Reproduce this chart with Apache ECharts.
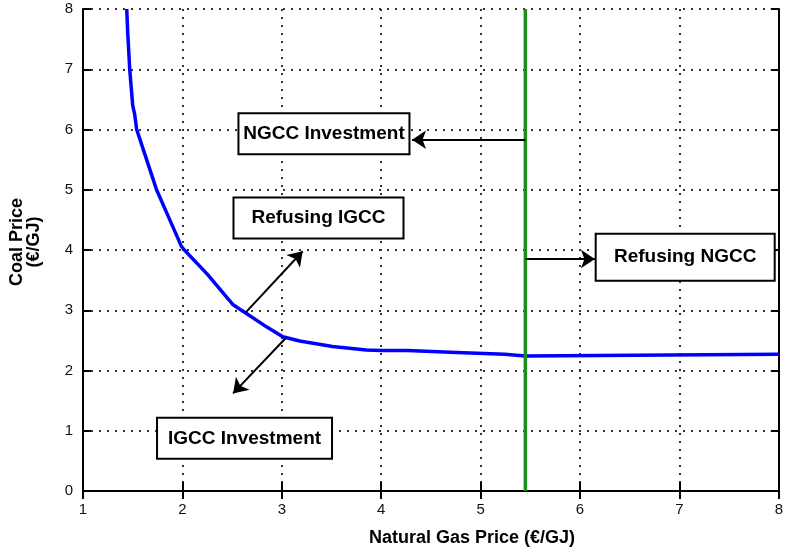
<!DOCTYPE html>
<html>
<head>
<meta charset="utf-8">
<script src="https://cdn.jsdelivr.net/npm/echarts@6/dist/echarts.min.js"></script>
<style>
  html, body { margin: 0; padding: 0; background: #fff; }
  #chart { width: 786px; height: 550px; }
</style>
</head>
<body>
<div id="chart"></div>
<script>
// Indifference boundary between IGCC investment and refusal (gas price, coal price)
var boundaryGas  = [1.44, 1.45, 1.47, 1.49, 1.50, 1.52, 1.54, 1.64, 1.74, 1.86, 1.99, 2.02, 2.25, 2.47, 2.51, 2.64, 2.85, 3.01, 3.18, 3.51, 3.85, 4.00, 4.26, 4.27, 4.76, 4.77, 5.24, 5.25, 5.45, 5.46, 8.00];
var boundaryCoal = [8.00, 7.60, 7.00, 6.60, 6.40, 6.25, 6.00, 5.50, 5.00, 4.55, 4.06, 4.00, 3.60, 3.17, 3.09, 2.95, 2.72, 2.56, 2.49, 2.40, 2.34, 2.33, 2.33, 2.30, 2.30, 2.27, 2.27, 2.24, 2.24, 2.27, 2.27];

// NGCC threshold gas price
var ngccThreshold = 5.45;
var coalRange = [0, 8];

// Region labels: text, gas price, coal price, box width, box height
var regionText  = ['NGCC Investment', 'Refusing IGCC', 'Refusing NGCC', 'IGCC Investment'];
var regionGas   = [3.424, 3.369, 7.058, 2.625];
var regionCoal  = [5.93, 4.53, 3.88, 0.875];
var regionBoxW  = [173, 172, 181, 177];
var regionBoxH  = [43, 43, 49, 43];

// Direction arrows: start and end points (gas price, coal price)
var arrowFrom = [[5.45, 5.83], [5.45, 3.85], [2.64, 2.97], [3.04, 2.54]];
var arrowTo   = [[4.31, 5.83], [6.15, 3.85], [3.21, 3.98], [2.51, 1.62]];

// Axis ranges
var gasMin = 1, gasMax = 8, gasStep = 1;
var coalMin = 0, coalMax = 8, coalStep = 1;

var boundaryData = boundaryGas.map(function (g, i) { return [g, boundaryCoal[i]]; });
var thresholdData = coalRange.map(function (c) { return [ngccThreshold, c]; });
var regionData = regionText.map(function (t, i) {
  return {
    value: [regionGas[i], regionCoal[i]],
    label: { width: regionBoxW[i] - 4, height: regionBoxH[i] - 4, lineHeight: regionBoxH[i] - 4 }
  };
});
var arrowData = arrowFrom.map(function (p, i) { return { coords: [p, arrowTo[i]] }; });

var font = 'Liberation Sans, Arial, Helvetica, sans-serif';
var frame = { show: true, lineStyle: { color: '#000', width: 2 } };
var gridDots = { show: true, lineStyle: { color: '#333', width: 2, type: [2, 6] } };
var innerTick = { show: true, inside: true, length: 8, lineStyle: { color: '#000', width: 2 } };

var chart = echarts.init(document.getElementById('chart'), null, { renderer: 'canvas' });
chart.setOption({
  backgroundColor: '#fff',
  animation: false,
  grid: { left: 83, right: 5, top: 9, bottom: 59 },
  xAxis: [{
    type: 'value', min: gasMin, max: gasMax, interval: gasStep,
    axisLine: frame,
    axisTick: { show: true, inside: true, length: 9, lineStyle: { color: '#000', width: 2 } },
    axisLabel: { color: '#111', fontFamily: font, fontSize: 15, margin: 11 },
    splitLine: gridDots
  }, {
    type: 'value', position: 'top', min: gasMin, max: gasMax, interval: gasStep,
    axisLine: frame, axisTick: innerTick,
    axisLabel: { show: false }, splitLine: { show: false }
  }],
  yAxis: [{
    type: 'value', min: coalMin, max: coalMax, interval: coalStep,
    axisLine: frame, axisTick: innerTick,
    axisLabel: { color: '#111', fontFamily: font, fontSize: 15, margin: 10 },
    splitLine: gridDots
  }, {
    type: 'value', position: 'right', min: coalMin, max: coalMax, interval: coalStep,
    axisLine: frame, axisTick: innerTick,
    axisLabel: { show: false }, splitLine: { show: false }
  }],
  graphic: [{
    type: 'text', x: 472, y: 538,
    style: {
      text: 'Natural Gas Price (€/GJ)', fill: '#000', font: 'bold 18px ' + font,
      align: 'center', verticalAlign: 'middle'
    }
  }, {
    type: 'text', x: 26, y: 242, rotation: Math.PI / 2,
    style: {
      text: 'Coal Price\n(€/GJ)', fill: '#000', font: 'bold 18px ' + font,
      align: 'center', verticalAlign: 'middle', lineHeight: 17
    }
  }],
  series: [{
    type: 'line', data: boundaryData, showSymbol: false, symbol: 'none',
    lineStyle: { color: '#0000ff', width: 3.5 }, z: 3
  }, {
    type: 'line', data: thresholdData, showSymbol: false, symbol: 'none',
    lineStyle: { color: '#1a901a', width: 3.5 }, z: 3
  }, {
    type: 'lines', coordinateSystem: 'cartesian2d', data: arrowData,
    symbol: ['none', 'arrow'], symbolSize: [0, 14],
    lineStyle: { color: '#000', width: 2, opacity: 1 }, z: 4
  }, {
    type: 'scatter', data: regionData, symbolSize: 0, z: 5,
    itemStyle: { opacity: 1 },
    label: {
      show: true, position: 'inside', opacity: 1,
      formatter: function (p) { return regionText[p.dataIndex]; },
      color: '#000', fontFamily: font, fontWeight: 'bold', fontSize: 19,
      textBorderWidth: 0, textShadowBlur: 0,
      backgroundColor: '#fff', borderColor: '#000', borderWidth: 2,
      align: 'center', verticalAlign: 'middle', padding: 0
    }
  }]
});
</script>
</body>
</html>
